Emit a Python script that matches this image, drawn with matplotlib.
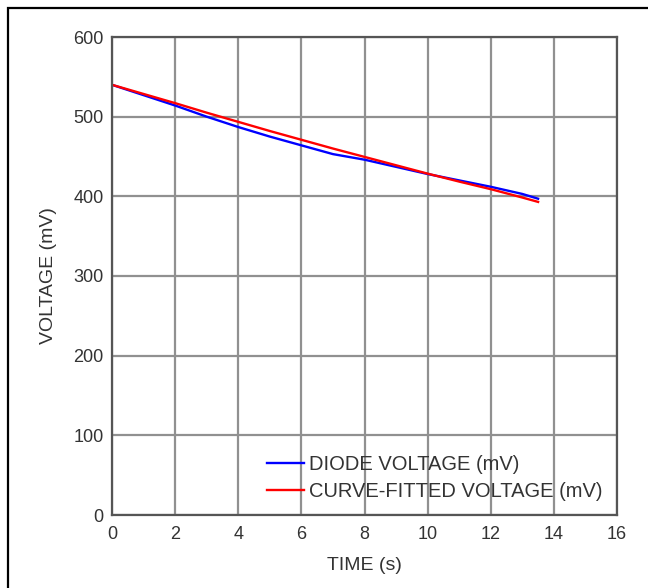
import numpy as np
import matplotlib.pyplot as plt
from matplotlib.patches import Rectangle

plt.rcParams['font.family'] = ['Liberation Sans', 'DejaVu Sans']

# measured diode voltage and the fitted curve over time
time_s = [0, 1, 2, 3, 4, 5, 6, 7, 8, 9, 10, 11, 12, 13, 13.5]
diode_mv = [540, 527, 514, 500, 487, 475, 464, 453, 446, 437, 428, 420, 412, 403, 397]
fitted_mv = [540, 528.5, 517, 505, 493.5, 482, 471, 460, 449.5, 439, 428.5, 418.5, 409, 398.5, 393]

x_ticks = [0, 2, 4, 6, 8, 10, 12, 14, 16]
y_ticks = [0, 100, 200, 300, 400, 500, 600]

text_color = '#333333'
grid_color = '#909090'

fig = plt.figure(figsize=(6.48, 5.88), dpi=100)
ax = fig.add_axes([112 / 648, 1 - 515 / 588, 505 / 648, 478 / 588])

ax.plot(time_s, diode_mv, color='#0000ff', lw=1.7, label='DIODE VOLTAGE (mV)')
ax.plot(time_s, fitted_mv, color='#ff0000', lw=1.7, label='CURVE-FITTED VOLTAGE (mV)')

ax.set_xlim(0, 16)
ax.set_ylim(0, 600)
ax.set_xticks(x_ticks)
ax.set_yticks(y_ticks)
ax.grid(True, color=grid_color, lw=1.6)
ax.set_axisbelow(True)
ax.tick_params(length=0, labelsize=13, labelcolor=text_color, pad=6)
ax.tick_params(axis='x', pad=8)
for sp in ax.spines.values():
    sp.set_color('#555555')
    sp.set_linewidth(1.6)

ax.set_xlabel('TIME (s)', fontsize=14, color=text_color, labelpad=10)
ax.set_ylabel('VOLTAGE (mV)', fontsize=14, color=text_color, labelpad=12)

leg = ax.legend(loc='upper left', bbox_to_anchor=(0.307, 0.126), frameon=False,
                fontsize=14.5, handlelength=1.85, handletextpad=0.25, borderpad=0,
                labelspacing=0.4, borderaxespad=0)
for t in leg.get_texts():
    t.set_color(text_color)

# outer frame around the whole figure
fig.patches.append(Rectangle((8 / 648, -0.5), 2, 1.5 - 8 / 588, transform=fig.transFigure,
                             fill=False, edgecolor='black', lw=1.6))

fig.savefig('out.png', dpi=100)
